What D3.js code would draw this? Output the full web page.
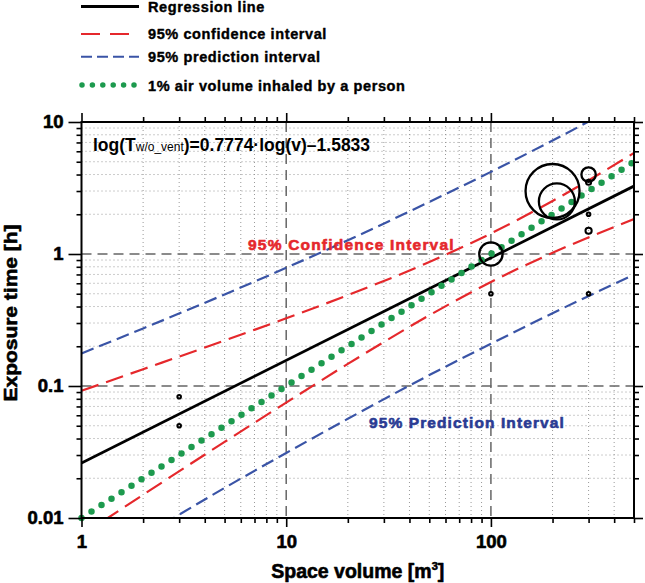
<!DOCTYPE html>
<html><head><meta charset="utf-8">
<script src="https://cdn.jsdelivr.net/npm/d3@7"></script>
<style>body{margin:0;background:#fff}svg{display:block;font-family:"Liberation Sans",Arial,sans-serif}</style>
</head><body><svg id="c" width="645" height="583"></svg>
<script>
// ---- data ----
const xMajorTicks = [1, 10, 100];
const xTickLabels = ["1", "10", "100"];
const xMinorTicks = [2,3,4,5,6,7,8,9,20,30,40,50,60,70,80,90,200,300,400,500];
const yMajorTicks = [0.01, 0.1, 1, 10];
const yTickLabels = ["0.01", "0.1", "1", "10"];
const yMinorTicks = [0.02,0.03,0.04,0.05,0.06,0.07,0.08,0.09,0.2,0.3,0.4,0.5,0.6,0.7,0.8,0.9,2,3,4,5,6,7,8,9];

const regVolume = [1, 500];
const regTime = [0.0261, 3.27];

const bandVolume = [1, 2, 5, 10, 20, 50, 100, 200, 500];
const ciUpper = [0.092, 0.134, 0.221, 0.326, 0.488, 0.869, 1.43, 2.52, 5.82];
const ciLower = [0.0074, 0.0150, 0.0377, 0.0749, 0.147, 0.343, 0.614, 1.02, 1.84];
const piUpper = [0.1765, 0.273, 0.494, 0.786, 1.27, 2.48, 4.19, 7.24, 15.4];
const piLower = [0.0039, 0.0073, 0.0169, 0.0311, 0.0564, 0.121, 0.209, 0.356, 0.696];

const airVolume = [1, 500];
const airTime = [0.01, 5];

const pointVolume = [3, 3, 100, 100, 200, 210, 300, 300, 300, 300, 300];
const pointTime   = [0.083, 0.05, 1.0, 0.5, 3.0, 2.5, 4.0, 3.5, 2.0, 1.5, 0.5];
const pointWeight = [1, 1, 42, 1, 225, 100, 16, 2, 1, 3, 1];

const legendLabels = ["Regression line", "95% confidence interval", "95% prediction interval", "1% air volume inhaled by a person"];
const equationParts = ["log(T", "w/o_vent", ")=0.7774\u00B7log(v)\u20131.5833"];

// ---- drawing ----
const svg = d3.select("#c");
const L = 81.5, R = 634, T = 122, B = 518;
const x = d3.scaleLog().domain([1, 500]).range([L, R]);
const y = d3.scaleLog().domain([0.01, 10]).range([B, T]);
const rScale = d3.scaleSqrt().domain([0, 1]).range([0, 1.8]);

const RED = "#e5282c", BLUE = "#3a54a6", GREEN = "#1d9a4e";

svg.append("defs").append("clipPath").attr("id", "clip")
  .append("rect").attr("x", L).attr("y", T).attr("width", R - L).attr("height", B - T);

// grid
const grid = svg.append("g");
grid.selectAll(".gxm").data(xMinorTicks.filter(d => d < 500)).join("line")
  .attr("x1", d => x(d)).attr("x2", d => x(d)).attr("y1", T).attr("y2", B)
  .attr("stroke", "#999").attr("stroke-width", 1).attr("stroke-dasharray", "1,3");
grid.selectAll(".gym").data(yMinorTicks).join("line")
  .attr("y1", d => y(d)).attr("y2", d => y(d)).attr("x1", L).attr("x2", R)
  .attr("stroke", "#999").attr("stroke-width", 1).attr("stroke-dasharray", "1,3");
grid.selectAll(".gxM").data(xMajorTicks.slice(1)).join("line")
  .attr("x1", d => x(d)).attr("x2", d => x(d)).attr("y1", T).attr("y2", B)
  .attr("stroke", "#666").attr("stroke-width", 1.5).attr("stroke-dasharray", "10,6");
grid.selectAll(".gyM").data(yMajorTicks.slice(1, 3)).join("line")
  .attr("y1", d => y(d)).attr("y2", d => y(d)).attr("x1", L).attr("x2", R)
  .attr("stroke", "#666").attr("stroke-width", 1.5).attr("stroke-dasharray", "10,6");

// lines
const plot = svg.append("g").attr("clip-path", "url(#clip)");
const line = d3.line().x(d => x(d[0])).y(d => y(d[1])).curve(d3.curveMonotoneX);
const zip = (a, b) => a.map((v, i) => [v, b[i]]);

plot.append("path").datum(zip(bandVolume, piUpper)).attr("d", line)
  .attr("fill", "none").attr("stroke", BLUE).attr("stroke-width", 2.2).attr("stroke-dasharray", "13,6");
plot.append("path").datum(zip(bandVolume, piLower)).attr("d", line)
  .attr("fill", "none").attr("stroke", BLUE).attr("stroke-width", 2.2).attr("stroke-dasharray", "13,6");
plot.append("path").datum(zip(bandVolume, ciUpper)).attr("d", line)
  .attr("fill", "none").attr("stroke", RED).attr("stroke-width", 2.2).attr("stroke-dasharray", "18,8");
plot.append("path").datum(zip(bandVolume, ciLower)).attr("d", line)
  .attr("fill", "none").attr("stroke", RED).attr("stroke-width", 2.2).attr("stroke-dasharray", "18,8");
plot.append("path").datum(zip(regVolume, regTime)).attr("d", line)
  .attr("fill", "none").attr("stroke", "#000").attr("stroke-width", 2.8);
svg.append("path").datum(zip(airVolume, airTime)).attr("d", line)
  .attr("fill", "none").attr("stroke", GREEN).attr("stroke-width", 6.5)
  .attr("stroke-linecap", "round").attr("stroke-dasharray", "0,11.9");

// bubbles
svg.append("g").selectAll("circle").data(pointVolume.map((v, i) => ({v, t: pointTime[i], w: pointWeight[i]})))
  .join("circle")
  .attr("cx", d => x(d.v)).attr("cy", d => y(d.t)).attr("r", d => rScale(d.w))
  .attr("fill", "none").attr("stroke", "#000").attr("stroke-width", d => d.w > 10 ? 2.3 : 2);

// heavy text helper (thin outline of same colour to mimic the heavier face)
const heavy = (sel, c, w) => sel.attr("stroke", c).attr("stroke-width", w).attr("stroke-linejoin", "round");

// annotations
svg.append("text").attr("x", 248).attr("y", 249.5).attr("fill", RED)
  .attr("font-size", 15.5).attr("font-weight", "bold").attr("letter-spacing", 1.2)
  .call(heavy, RED, 0.6).text("95% Confidence Interval");
svg.append("text").attr("x", 369).attr("y", 427.5).attr("fill", "#2a3b93")
  .attr("font-size", 15.5).attr("font-weight", "bold").attr("letter-spacing", 1.1)
  .call(heavy, "#2a3b93", 0.6).text("95% Prediction Interval");

// equation
const eq = svg.append("text").attr("x", 93).attr("y", 150.5).attr("font-size", 17.5)
  .attr("font-weight", "bold").attr("fill", "#000");
eq.append("tspan").text(equationParts[0]);
eq.append("tspan").attr("font-size", 12).attr("font-weight", "normal").text(equationParts[1]);
eq.append("tspan").text(equationParts[2]);

// frame
svg.append("rect").attr("x", L).attr("y", T).attr("width", R - L).attr("height", B - T)
  .attr("fill", "none").attr("stroke", "#000").attr("stroke-width", 2);

// axes
function styleAxis(g) {
  g.select(".domain").remove();
  g.selectAll(".tick line").attr("stroke", "#000").attr("stroke-width", 1.6);
  g.selectAll(".tick text").attr("font-size", 18.5).attr("font-weight", "bold").attr("fill", "#000")
    .attr("font-family", "'Liberation Sans',Arial,sans-serif").call(heavy, "#000", 0.6);
}
svg.append("g").attr("transform", `translate(0,${B})`)
  .call(d3.axisBottom(x).tickValues(xMinorTicks).tickSize(5).tickFormat(""))
  .call(styleAxis);
svg.append("g").attr("transform", `translate(0,${B})`)
  .call(d3.axisBottom(x).tickValues(xMajorTicks).tickSize(9).tickPadding(8).tickFormat((d, i) => xTickLabels[i]))
  .call(styleAxis);
svg.append("g").attr("transform", `translate(0,${T})`)
  .call(d3.axisTop(x).tickValues(xMinorTicks).tickSize(5).tickFormat(""))
  .call(styleAxis);
svg.append("g").attr("transform", `translate(0,${T})`)
  .call(d3.axisTop(x).tickValues(xMajorTicks).tickSize(9).tickFormat(""))
  .call(styleAxis);
svg.append("g").attr("transform", `translate(${L},0)`)
  .call(d3.axisLeft(y).tickValues(yMinorTicks).tickSize(5).tickFormat(""))
  .call(styleAxis);
svg.append("g").attr("transform", `translate(${L},0)`)
  .call(d3.axisLeft(y).tickValues(yMajorTicks).tickSize(13).tickPadding(5).tickFormat((d, i) => yTickLabels[i]))
  .call(styleAxis);
svg.append("g").attr("transform", `translate(${R},0)`)
  .call(d3.axisRight(y).tickValues(yMinorTicks).tickSize(5).tickFormat(""))
  .call(styleAxis);
svg.append("g").attr("transform", `translate(${R},0)`)
  .call(d3.axisRight(y).tickValues(yMajorTicks).tickSize(9).tickFormat(""))
  .call(styleAxis);

// axis titles
const xt = svg.append("text").attr("x", (L + R) / 2).attr("y", 578).attr("text-anchor", "middle")
  .attr("font-size", 19.5).attr("font-weight", "bold").call(heavy, "#000", 0.6);
xt.append("tspan").text("Space volume [m");
xt.append("tspan").attr("font-size", 11).attr("dy", -8).text("3");
xt.append("tspan").attr("dy", 8).text("]");
svg.append("text").attr("transform", "translate(17,313) rotate(-90)").attr("text-anchor", "middle")
  .attr("font-size", 18.5).attr("font-weight", "bold").attr("textLength", 177).attr("lengthAdjust", "spacingAndGlyphs")
  .call(heavy, "#000", 0.6).text("Exposure time [h]");

// legend
const lg = svg.append("g");
const rowsY = [6.5, 34, 56.7, 85];
const baseY = [12, 39, 61.7, 90.7];
lg.append("line").attr("x1", 81).attr("x2", 139).attr("y1", rowsY[0]).attr("y2", rowsY[0])
  .attr("stroke", "#000").attr("stroke-width", 3);
lg.append("line").attr("x1", 81).attr("x2", 132).attr("y1", rowsY[1]).attr("y2", rowsY[1])
  .attr("stroke", RED).attr("stroke-width", 2).attr("stroke-dasharray", "19,10");
lg.append("line").attr("x1", 81).attr("x2", 139).attr("y1", rowsY[2]).attr("y2", rowsY[2])
  .attr("stroke", BLUE).attr("stroke-width", 2).attr("stroke-dasharray", "11,5");
lg.append("line").attr("x1", 82).attr("x2", 135).attr("y1", rowsY[3]).attr("y2", rowsY[3])
  .attr("stroke", GREEN).attr("stroke-width", 5.5).attr("stroke-linecap", "round").attr("stroke-dasharray", "0,10.4");
lg.selectAll("text").data(legendLabels).join("text")
  .attr("x", 148).attr("y", (d, i) => baseY[i]).attr("font-size", 14.5).attr("font-weight", "bold")
  .attr("letter-spacing", 0.6).call(heavy, "#000", 0.4).text(d => d);
</script></body></html>
